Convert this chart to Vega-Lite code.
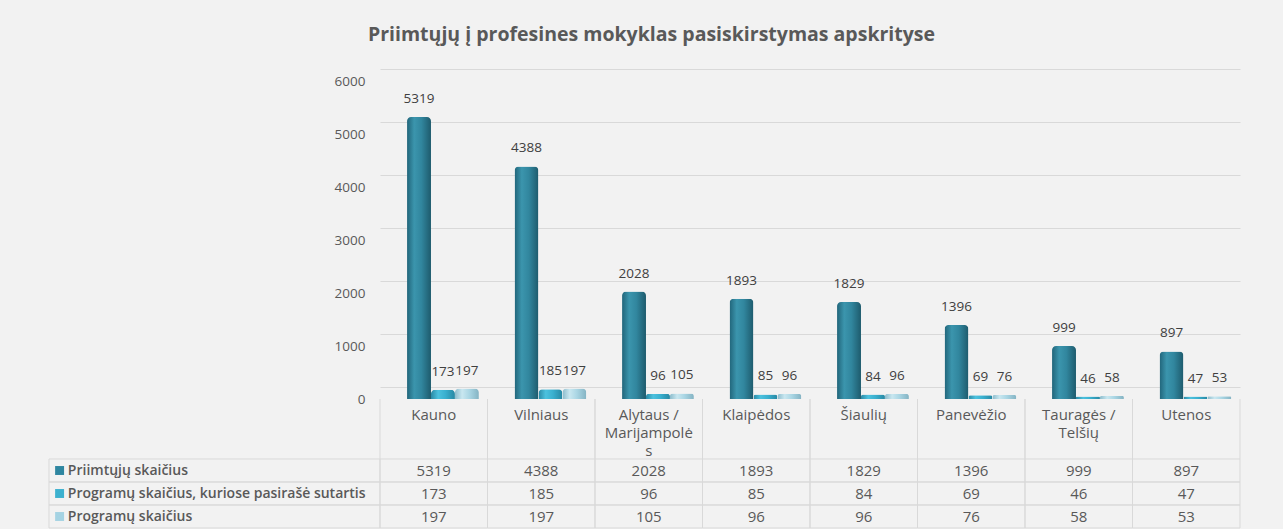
{
  "$schema": "https://vega.github.io/schema/vega-lite/v6.json",
  "background": "#f2f2f2",
  "padding": {"left": 48, "right": 43, "top": 24, "bottom": 0},
  "title": {
    "text": "Priimtųjų į profesines mokyklas pasiskirstymas apskrityse",
    "fontSize": 19.5,
    "fontWeight": "bold",
    "color": "#595959",
    "anchor": "middle",
    "offset": 29,
    "dx": 7
  },
  "datasets": {
    "main": [
      {"cat": "Kauno", "series": "Priimtųjų skaičius", "value": 5319},
      {"cat": "Vilniaus", "series": "Priimtųjų skaičius", "value": 4388},
      {"cat": "Alytaus / Marijampolės", "series": "Priimtųjų skaičius", "value": 2028},
      {"cat": "Klaipėdos", "series": "Priimtųjų skaičius", "value": 1893},
      {"cat": "Šiaulių", "series": "Priimtųjų skaičius", "value": 1829},
      {"cat": "Panevėžio", "series": "Priimtųjų skaičius", "value": 1396},
      {"cat": "Tauragės / Telšių", "series": "Priimtųjų skaičius", "value": 999},
      {"cat": "Utenos", "series": "Priimtųjų skaičius", "value": 897},
      {"cat": "Kauno", "series": "Programų skaičius, kuriose pasirašė sutartis", "value": 173},
      {"cat": "Vilniaus", "series": "Programų skaičius, kuriose pasirašė sutartis", "value": 185},
      {"cat": "Alytaus / Marijampolės", "series": "Programų skaičius, kuriose pasirašė sutartis", "value": 96},
      {"cat": "Klaipėdos", "series": "Programų skaičius, kuriose pasirašė sutartis", "value": 85},
      {"cat": "Šiaulių", "series": "Programų skaičius, kuriose pasirašė sutartis", "value": 84},
      {"cat": "Panevėžio", "series": "Programų skaičius, kuriose pasirašė sutartis", "value": 69},
      {"cat": "Tauragės / Telšių", "series": "Programų skaičius, kuriose pasirašė sutartis", "value": 46},
      {"cat": "Utenos", "series": "Programų skaičius, kuriose pasirašė sutartis", "value": 47},
      {"cat": "Kauno", "series": "Programų skaičius", "value": 197},
      {"cat": "Vilniaus", "series": "Programų skaičius", "value": 197},
      {"cat": "Alytaus / Marijampolės", "series": "Programų skaičius", "value": 105},
      {"cat": "Klaipėdos", "series": "Programų skaičius", "value": 96},
      {"cat": "Šiaulių", "series": "Programų skaičius", "value": 96},
      {"cat": "Panevėžio", "series": "Programų skaičius", "value": 76},
      {"cat": "Tauragės / Telšių", "series": "Programų skaičius", "value": 58},
      {"cat": "Utenos", "series": "Programų skaičius", "value": 53}
    ]
  },
  "columns": 2,
  "spacing": 0,
  "bounds": "flush",
  "align": "each",
  "concat": [
    {
      "width": 331, "height": 318,
      "data": {"values": [{}]},
      "mark": {"type": "point", "opacity": 0},
      "encoding": {}
    },
    {
      "width": 860, "height": 318,
      "data": {"name": "main"},
      "encoding": {
        "x": {
          "field": "cat", "type": "nominal",
          "scale": {"domain": ["Kauno", "Vilniaus", "Alytaus / Marijampolės", "Klaipėdos", "Šiaulių", "Panevėžio", "Tauragės / Telšių", "Utenos"], "paddingInner": 0.1, "paddingOuter": 0.05},
          "axis": {
            "title": null, "domain": false, "ticks": false, "labelAngle": 0,
            "labelPadding": 8, "labelFontSize": 15, "labelColor": "#595959",
            "labelLineHeight": 18, "labelBaseline": "top", "labelLimit": 0,
            "labelOverlap": false,
            "labelExpr": "datum.value == 'Alytaus / Marijampolės' ? ['Alytaus /', 'Marijampolė', 's'] : datum.value == 'Tauragės / Telšių' ? ['Tauragės /', 'Telšių'] : datum.label"
          }
        },
        "xOffset": {
          "field": "series", "type": "nominal",
          "scale": {"domain": ["Priimtųjų skaičius", "Programų skaičius, kuriose pasirašė sutartis", "Programų skaičius"], "paddingInner": 0, "paddingOuter": 0.52, "align": 0.87}
        },
        "y": {
          "field": "value", "type": "quantitative",
          "scale": {"domain": [0, 6000]},
          "axis": {
            "title": null, "values": [0, 1000, 2000, 3000, 4000, 5000, 6000], "format": "d",
            "domain": false, "ticks": false, "labelPadding": 15, "labelFontSize": 13.5,
            "labelColor": "#595959", "gridColor": "#d9d9d9", "tickOffset": -12, "labelOffset": 12
          }
        }
      },
      "layer": [
        {
          "transform": [{"filter": "datum.series === 'Priimtųjų skaičius'"}],
          "mark": {"type": "bar", "cornerRadiusTopLeft": 4, "cornerRadiusTopRight": 4,
            "color": {"gradient": "linear", "x1": 0, "x2": 1, "y1": 0, "y2": 0,
              "stops": [{"offset": 0, "color": "#21657a"}, {"offset": 0.3, "color": "#3b95ad"}, {"offset": 0.6, "color": "#31869e"}, {"offset": 1, "color": "#1e5b6d"}]}}
        },
        {
          "transform": [{"filter": "datum.series === 'Programų skaičius, kuriose pasirašė sutartis'"}],
          "mark": {"type": "bar", "cornerRadiusTopLeft": 4, "cornerRadiusTopRight": 4,
            "color": {"gradient": "linear", "x1": 0, "x2": 1, "y1": 0, "y2": 0,
              "stops": [{"offset": 0, "color": "#2a8aa6"}, {"offset": 0.3, "color": "#4cc1de"}, {"offset": 0.6, "color": "#3ab0cf"}, {"offset": 1, "color": "#2788a3"}]}}
        },
        {
          "transform": [{"filter": "datum.series === 'Programų skaičius'"}],
          "mark": {"type": "bar", "cornerRadiusTopLeft": 4, "cornerRadiusTopRight": 4,
            "color": {"gradient": "linear", "x1": 0, "x2": 1, "y1": 0, "y2": 0,
              "stops": [{"offset": 0, "color": "#8cbccc"}, {"offset": 0.3, "color": "#c9e7f0"}, {"offset": 0.6, "color": "#aad6e4"}, {"offset": 1, "color": "#84b3c3"}]}}
        },
        {
          "mark": {"type": "text", "baseline": "middle", "dy": -18, "fontSize": 13.5, "color": "#404040"},
          "encoding": {"text": {"field": "value", "type": "quantitative", "format": "d"}}
        }
      ]
    },
    {
      "width": 331, "height": 60,
      "data": {"values": [{}]},
      "mark": {"type": "point", "opacity": 0},
      "encoding": {}
    },
    {
      "width": 860, "height": 60,
      "data": {"name": "main"},
      "transform": [{"filter": "datum.series === 'Priimtųjų skaičius'"}],
      "layer": [
        {
          "mark": {"type": "rule", "color": "#d9d9d9"},
          "encoding": {"x": {"field": "cat", "type": "nominal", "bandPosition": 0,
            "scale": {"domain": ["Kauno", "Vilniaus", "Alytaus / Marijampolės", "Klaipėdos", "Šiaulių", "Panevėžio", "Tauragės / Telšių", "Utenos"], "paddingInner": 0, "paddingOuter": 0},
            "axis": null}}
        },
        {
          "mark": {"type": "rule", "color": "#d9d9d9"},
          "encoding": {"x": {"field": "cat", "type": "nominal", "bandPosition": 1,
            "scale": {"domain": ["Kauno", "Vilniaus", "Alytaus / Marijampolės", "Klaipėdos", "Šiaulių", "Panevėžio", "Tauragės / Telšių", "Utenos"], "paddingInner": 0, "paddingOuter": 0},
            "axis": null}}
        }
      ]
    },
    {
      "width": 331, "height": 69,
      "data": {"name": "main"},
      "transform": [{"filter": "datum.cat === 'Kauno'"}],
      "encoding": {
        "y": {"field": "series", "type": "nominal",
          "scale": {"domain": ["Priimtųjų skaičius", "Programų skaičius, kuriose pasirašė sutartis", "Programų skaičius"], "paddingInner": 0, "paddingOuter": 0},
          "axis": null}
      },
      "layer": [
        {
          "mark": {"type": "rect", "fillOpacity": 0, "stroke": "#d9d9d9", "strokeWidth": 1},
          "encoding": {
            "x": {"datum": 0, "type": "quantitative", "scale": {"domain": [0, 1]}, "axis": null},
            "x2": {"datum": 1}
          }
        },
        {
          "mark": {"type": "point", "shape": "square", "filled": true, "size": 80, "opacity": 1},
          "encoding": {
            "x": {"datum": 0.032, "type": "quantitative", "scale": {"domain": [0, 1]}, "axis": null},
            "color": {"field": "series", "type": "nominal",
              "scale": {"domain": ["Priimtųjų skaičius", "Programų skaičius, kuriose pasirašė sutartis", "Programų skaičius"], "range": ["#2e86a0", "#3db1cf", "#a5d3e3"]},
              "legend": null}
          }
        },
        {
          "mark": {"type": "text", "align": "left", "fontSize": 14, "fontWeight": 600, "color": "#595959"},
          "encoding": {
            "x": {"datum": 0.057, "type": "quantitative", "scale": {"domain": [0, 1]}, "axis": null},
            "text": {"field": "series", "type": "nominal"}
          }
        }
      ]
    },
    {
      "width": 860, "height": 69,
      "data": {"name": "main"},
      "encoding": {
        "x": {"field": "cat", "type": "nominal",
          "scale": {"domain": ["Kauno", "Vilniaus", "Alytaus / Marijampolės", "Klaipėdos", "Šiaulių", "Panevėžio", "Tauragės / Telšių", "Utenos"], "paddingInner": 0, "paddingOuter": 0},
          "axis": null},
        "y": {"field": "series", "type": "nominal",
          "scale": {"domain": ["Priimtųjų skaičius", "Programų skaičius, kuriose pasirašė sutartis", "Programų skaičius"], "paddingInner": 0, "paddingOuter": 0},
          "axis": null}
      },
      "layer": [
        {"mark": {"type": "rect", "fillOpacity": 0, "stroke": "#d9d9d9", "strokeWidth": 1}},
        {
          "mark": {"type": "text", "fontSize": 15, "color": "#595959"},
          "encoding": {"text": {"field": "value", "type": "quantitative", "format": "d"}}
        }
      ]
    }
  ],
  "config": {
    "view": {"stroke": null},
    "font": "Open Sans"
  }
}
